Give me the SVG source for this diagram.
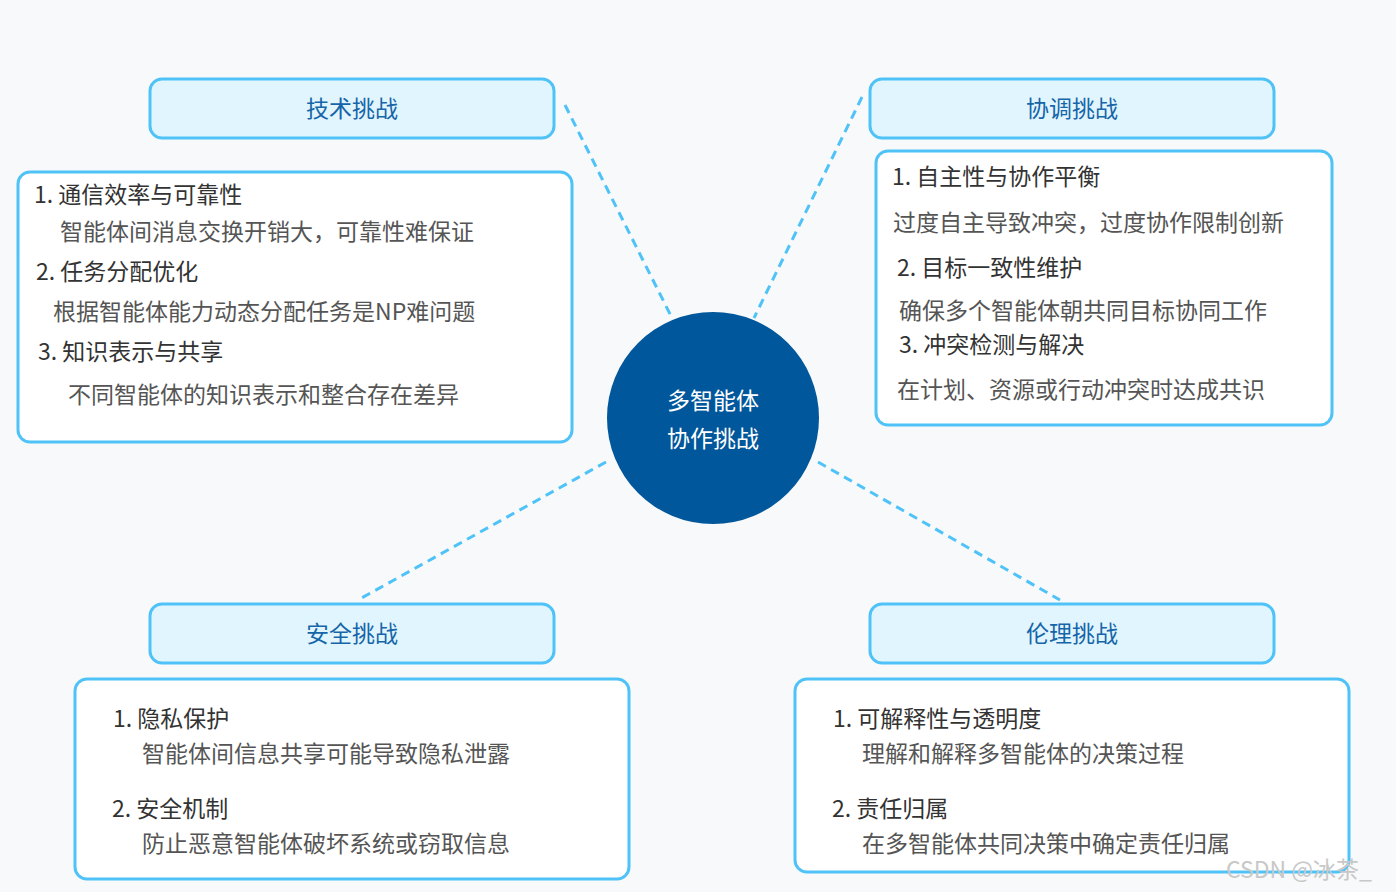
<svg xmlns="http://www.w3.org/2000/svg" width="1396" height="892" viewBox="0 0 1396 892">
<style>
.hd{fill:#e1f5fe;stroke:#4fc3f7;stroke-width:3}
.bx{fill:#fff;stroke:#4fc3f7;stroke-width:3}
text{font-family:"Noto Sans CJK SC","Noto Sans",sans-serif;font-size:23px}
.ht{fill:#1565a8;text-anchor:middle}
.t1{fill:#333}
.t2{fill:#555}
.cn{stroke:#4fc3f7;stroke-width:3;stroke-dasharray:9,6;fill:none}
</style>
<rect width="1396" height="892" fill="#f8f9fa"/>
<g id="connectors">
<line class="cn" x1="565" y1="105" x2="672" y2="318"/>
<line class="cn" x1="862" y1="97" x2="754" y2="318"/>
<line class="cn" x1="606" y1="462" x2="358" y2="600"/>
<line class="cn" x1="818" y1="462" x2="1060" y2="600"/>
</g>
<g id="center">
<circle cx="713" cy="418" r="106" fill="#01579b"/>
<text x="713" y="409" fill="#fff" text-anchor="middle">多智能体</text>
<text x="713" y="447" fill="#fff" text-anchor="middle">协作挑战</text>
</g>
<g id="tech">
<rect class="hd" x="150" y="79" width="404" height="59" rx="12"/>
<text class="ht" x="352" y="117">技术挑战</text>
<rect class="bx" x="18" y="172" width="554" height="270" rx="12"/>
<text class="t1" x="34" y="203">1. 通信效率与可靠性</text>
<text class="t2" x="60" y="240">智能体间消息交换开销大，可靠性难保证</text>
<text class="t1" x="36" y="280">2. 任务分配优化</text>
<text class="t2" x="53" y="320">根据智能体能力动态分配任务是NP难问题</text>
<text class="t1" x="38" y="360">3. 知识表示与共享</text>
<text class="t2" x="68" y="403">不同智能体的知识表示和整合存在差异</text>
</g>
<g id="coord">
<rect class="hd" x="870" y="79" width="404" height="59" rx="12"/>
<text class="ht" x="1072" y="117">协调挑战</text>
<rect class="bx" x="876" y="151" width="456" height="274" rx="12"/>
<text class="t1" x="892" y="185">1. 自主性与协作平衡</text>
<text class="t2" x="893" y="231">过度自主导致冲突，过度协作限制创新</text>
<text class="t1" x="897" y="276">2. 目标一致性维护</text>
<text class="t2" x="899" y="319">确保多个智能体朝共同目标协同工作</text>
<text class="t1" x="899" y="353">3. 冲突检测与解决</text>
<text class="t2" x="897" y="398">在计划、资源或行动冲突时达成共识</text>
</g>
<g id="security">
<rect class="hd" x="150" y="604" width="404" height="59" rx="12"/>
<text class="ht" x="352" y="642">安全挑战</text>
<rect class="bx" x="75" y="679" width="554" height="200" rx="12"/>
<text class="t1" x="113" y="727">1. 隐私保护</text>
<text class="t2" x="142" y="762">智能体间信息共享可能导致隐私泄露</text>
<text class="t1" x="112" y="817">2. 安全机制</text>
<text class="t2" x="142" y="852">防止恶意智能体破坏系统或窃取信息</text>
</g>
<g id="ethics">
<rect class="hd" x="870" y="604" width="404" height="59" rx="12"/>
<text class="ht" x="1072" y="642">伦理挑战</text>
<rect class="bx" x="795" y="679" width="554" height="193" rx="12"/>
<text class="t1" x="833" y="727">1. 可解释性与透明度</text>
<text class="t2" x="862" y="762">理解和解释多智能体的决策过程</text>
<text class="t1" x="832" y="817">2. 责任归属</text>
<text class="t2" x="862" y="852">在多智能体共同决策中确定责任归属</text>
</g>
<text x="1226" y="878" fill="#c8c8c8" font-size="22px">CSDN @冰茶_</text>
</svg>
